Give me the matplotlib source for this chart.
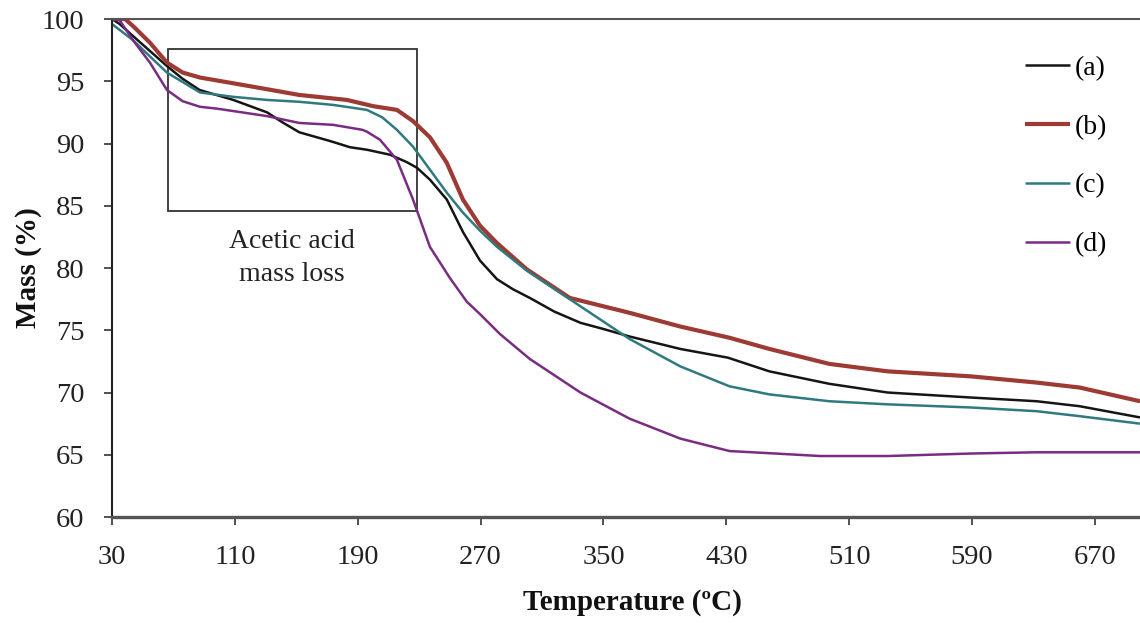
import numpy as np
import matplotlib
matplotlib.use('Agg')
import matplotlib.pyplot as plt
from matplotlib.patches import Rectangle

plt.rcParams['font.family'] = ['Liberation Serif', 'DejaVu Serif']

# data (temperature in ºC, mass in %)
t_a = [30, 35, 44, 55, 66, 76, 87, 109, 131, 141, 152, 172, 185, 196, 211, 222, 228.6, 237, 248,
       258.5, 269.6, 280.7, 291, 302, 318, 335, 350, 367, 400, 431, 458, 497, 535, 589, 632, 660, 699.3]
m_a = [100.0, 99.6, 98.6, 97.4, 96.2, 95.2, 94.3, 93.5, 92.5, 91.7, 90.9, 90.2, 89.7, 89.5, 89.1, 88.5, 88.05, 87.1, 85.5,
       82.9, 80.6, 79.1, 78.3, 77.6, 76.5, 75.6, 75.1, 74.5, 73.5, 72.8, 71.7, 70.7, 70.0, 69.6, 69.3, 68.9, 68.0]

t_b = [30, 38.5, 44, 54.7, 65.8, 76, 87.3, 120, 152, 183, 200, 215.5, 226, 237, 248, 258.5, 269.6,
       280.7, 300, 328, 367, 400, 432, 458, 497, 535, 589, 632, 660, 699.3]
m_b = [100.0, 100.0, 99.4, 98.1, 96.5, 95.7, 95.3, 94.6, 93.9, 93.5, 93.0, 92.7, 91.8, 90.5, 88.45, 85.5, 83.4,
       82.0, 79.9, 77.6, 76.4, 75.3, 74.4, 73.5, 72.3, 71.7, 71.3, 70.8, 70.4, 69.3]

t_c = [30, 43.7, 54.7, 65.8, 87.3, 108.8, 131, 152, 174, 196, 206, 215.5, 226, 237, 248, 258.5, 269.6,
       280.7, 300, 328, 367, 400, 432, 458, 497, 535, 589, 632, 660, 699.3]
m_c = [99.6, 98.3, 97.0, 95.7, 94.1, 93.75, 93.5, 93.35, 93.1, 92.7, 92.1, 91.1, 89.75, 87.9, 86.05, 84.45, 83.0,
       81.7, 79.8, 77.5, 74.3, 72.1, 70.5, 69.85, 69.3, 69.05, 68.8, 68.5, 68.1, 67.5]

t_d = [30, 35, 43.7, 54.7, 65.8, 76, 87.3, 98.4, 131, 152, 174, 193, 196, 204.5, 215.5, 226, 237, 250,
       261, 269.6, 282.6, 302, 335, 367, 400, 432, 462, 491, 535, 589, 632, 699.3]
m_d = [100.0, 99.9, 98.3, 96.5, 94.3, 93.4, 92.95, 92.8, 92.2, 91.65, 91.5, 91.1, 90.95, 90.3, 88.7, 85.5, 81.7, 79.2,
       77.3, 76.3, 74.7, 72.7, 70.0, 67.9, 66.3, 65.3, 65.1, 64.9, 64.9, 65.1, 65.2, 65.2]

labels = ['(a)', '(b)', '(c)', '(d)']
colors = ['#151515', '#9c3a33', '#2f7a7e', '#7a2c82']
widths = [1.8, 3.0, 1.8, 1.8]

x_ticks = [30, 110, 190, 270, 350, 430, 510, 590, 670]
y_ticks = [60, 65, 70, 75, 80, 85, 90, 95, 100]

# box around the acetic acid step
box_t = (66.5, 228.6)
box_m = (84.6, 97.6)

fig = plt.figure(figsize=(11.4, 6.23), dpi=100)
ax = fig.add_axes([0.0982, 0.1701, 0.9018, 0.7994])

for t, m, lab, c, w in zip([t_a, t_b, t_c, t_d], [m_a, m_b, m_c, m_d], labels, colors, widths):
    ax.plot(t, m, color=c, lw=w, label=lab, solid_capstyle='butt', solid_joinstyle='round')

ax.add_patch(Rectangle((box_t[0], box_m[0]), box_t[1] - box_t[0], box_m[1] - box_m[0],
                       fill=False, edgecolor='#333333', lw=1.3))
ax.text(147, 80.8, 'Acetic acid\nmass loss', ha='center', va='center', fontsize=20,
        linespacing=1.45, color='#222222')

ax.set_xlim(30, 699.3)
ax.set_ylim(60, 100)
ax.set_xticks(x_ticks)
ax.set_yticks(y_ticks)
ax.tick_params(axis='both', labelsize=20.5, direction='out', length=5.8, width=1.2,
               colors='#333333', labelcolor='#222222', pad=14)

ax.spines['right'].set_visible(False)
ax.spines['left'].set_color('#222222')
ax.spines['left'].set_linewidth(1.5)
ax.spines['top'].set_color('#555555')
ax.spines['top'].set_linewidth(1.5)
ax.spines['bottom'].set_color('#555555')
ax.spines['bottom'].set_linewidth(2.4)

ax.set_xlabel('Temperature (ºC)', fontsize=21, fontweight='bold', color='#111111')
ax.set_ylabel('Mass (%)', fontsize=21, fontweight='bold', color='#111111')
ax.xaxis.set_label_coords(0.506, -0.145)
ax.yaxis.set_label_coords(-0.068, 0.5)

leg = ax.legend(loc='upper left', bbox_to_anchor=(0.864, 0.977), frameon=False, fontsize=20,
                handlelength=1.6, handletextpad=0.2, labelspacing=1.2)

fig.savefig('out.png', dpi=100)
